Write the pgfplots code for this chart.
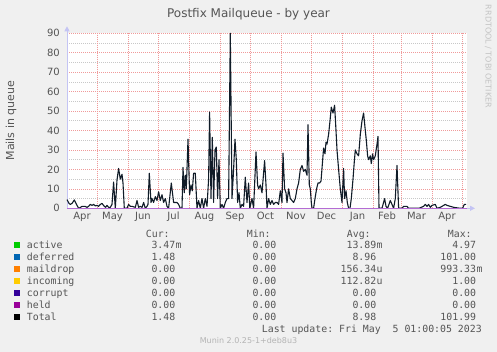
\documentclass[border=0pt]{standalone}
\usepackage{pgfplots}
\pgfplotsset{compat=1.18}
\usepackage{fontspec}
\setmainfont{DejaVu Sans}
\setmonofont{DejaVu Sans Mono}
\usetikzlibrary{arrows.meta}
\definecolor{bg}{HTML}{F0F0F0}
\definecolor{txt}{HTML}{555555}
\definecolor{gridred}{HTML}{F09A9A}
\definecolor{gridgray}{HTML}{C8C8C8}
\definecolor{axiscol}{HTML}{C4C4F4}
\definecolor{purp}{HTML}{B46CD4}
\definecolor{dataline}{HTML}{101C28}
\definecolor{cactive}{HTML}{00CC00}
\definecolor{cdeferred}{HTML}{0066B3}
\definecolor{cmaildrop}{HTML}{FF8000}
\definecolor{cincoming}{HTML}{FFCC00}
\definecolor{ccorrupt}{HTML}{330099}
\definecolor{cheld}{HTML}{990099}
\pgfplotstableread{
day val
0 4.5
2 2.5
3.3 2
5 2.5
7.3 4.3
9.5 2
11.6 0
13 0.3
15 1
18 1
20 0.5
21.6 1
23.3 2
25 1.5
26.6 2
28.3 1.2
30 1.5
31.6 1
33.3 2
35 2.5
37.3 1
38.6 0.5
40 1.5
41.6 0.5
43.3 0.5
45 2
46.6 13.5
48.3 0
50 14.5
51.6 20.5
53.3 15
55 17.5
56 13
57.3 0
60 0
61.6 2
63.3 1
65 1
68.3 0.5
70 4
71.6 0.5
73.3 1
75 0.5
76.6 3
78.3 0
80 1
81 2
82.3 18
84 3
85 5
86.6 3
88.3 6
90 4
91.6 8.5
93.3 4
95 7
96.6 3
98.3 5
100 1
101.6 0
104.3 13
106.6 3
108.3 3
110 3
111.6 2
113.3 0
115 0
116 21
117.3 8
118.3 17
119.3 10
121 35.5
122.6 7
124 12
125.3 9
126.6 18
128.3 18
130 0
131.6 4
133.3 0
135 5
136.6 0
138.3 5
140 1
141.6 15
142.6 49.5
144 5
145.3 36.5
146.6 3
148 30
149.3 31.5
150.6 5
152 25
153.3 0
155 2
156.6 0
158.3 3
160 5
161.6 5
163.3 90
165 5
166.6 20
168 35.5
169.3 25
170.6 3
172 8
173.3 0
175 2
176.6 1
178.3 16
180 3
181.6 13
182.8 0
185 5
186.6 0
189 29
190.6 12
191.6 10
193.3 12
195 8
197.6 24.5
199 12
200 0
201.6 5
203.3 2
205 4
206.6 2
208.3 3
210 3
211.6 2
213.3 9
215 3
216 28.4
217.6 10
219 8
220 3
221.6 10
223.3 5
225 4
226.6 3
228.3 5
230 10
231.6 13
233.3 20
235 22
236.6 19
238.3 20
240 17
241 43
242.3 12
243.3 10
244.3 3
245 0
246.6 0
248 5
249.6 10
251 13
252.6 13
254 14
255 20.5
256.6 31
258 28
259 34
260 33
261.6 38
263 45
264.3 52
266 49
267.6 53
269 40
270 30
271.6 20
273.3 10
275 3
276.6 20.5
277.6 5
279 9
280.3 3
281.6 0
283 0
284.3 5
286 15
287.3 24
288.3 30
290 28
291.6 27
293.3 38
295 45
296.6 49
298.3 40
299.3 35
300.6 27
301.6 25
303.3 27
304.3 23
305.6 28
306.6 25
308.3 27
310 33
311 37
312 0
313.3 0
315 0
317.6 5
319 1
320.6 0
323.3 4
325 2
326.6 0
328.3 5
330 22
331.6 0
335 0
336.6 1
340 1
341.6 0
345 0
350 0
352 0
356.6 1
358.3 2
360 1
361.6 2
363.3 0.5
365 1.5
368.3 2
370 0
373.3 0.5
375 1
376.6 1.5
378.3 2
380 1.5
383.3 1
386.6 0.5
393.3 0
395.6 0
397.3 2
399 2
}\total
\begin{document}
\begin{tikzpicture}[x=1pt,y=1pt]
\useasboundingbox (0,0) rectangle (497,352);
\fill[bg] (0,0) rectangle (497,352);
\begin{axis}[
  at={(67pt,143.7pt)}, anchor=south west,
  scale only axis, width=400pt, height=175pt,
  xmin=0, xmax=400, ymin=0, ymax=90,
  axis background/.style={fill=white},
  axis line style={draw=none},
  clip=false,
  xtick={15,45.5,76,106.5,137.5,168,198.5,229,259.5,290.5,320,349.5,380},
  xticklabels={Apr,May,Jun,Jul,Aug,Sep,Oct,Nov,Dec,Jan,Feb,Mar,Apr},
  extra x ticks={30,61,91,122,153,183,214,244,275,306,334,365,395},
  extra x tick labels={\empty},
  extra x tick style={grid=major, xticklabel style={opacity=0}},
  ytick={0,10,...,90},
  minor ytick={5,15,...,85},
  ymajorgrids, yminorgrids,
  major grid style={draw=gridred, dash pattern=on 1pt off 1pt, line width=0.6pt},
  minor grid style={draw=gridgray, dash pattern=on 1pt off 1pt, line width=0.6pt},
  major tick length=0pt, minor tick length=0pt,
  tick label style={font=\fontsize{10}{12}\selectfont, text=txt},
  yticklabel style={xshift=-3.7pt},
  xticklabel style={text height=7.5pt, text depth=2pt},
  /pgf/number format/assume math mode=true,
]
\draw[axiscol, line width=0.8pt, -{Triangle[length=5pt,width=5pt]}] (rel axis cs:0,0) -- ([xshift=8pt]rel axis cs:1,0);
\draw[axiscol, line width=0.8pt, -{Triangle[length=5pt,width=5pt]}] (rel axis cs:0,0) -- ([yshift=7pt]rel axis cs:0,1);
\addplot[no marks, draw=dataline, line width=1.1pt, line join=round] table[x=day, y=val] {\total};
\addplot[no marks, draw=purp, line width=1.2pt] coordinates {(0,0) (400,0)};
\end{axis}
% title and labels
\node[anchor=base, inner sep=0, text=txt, font=\fontsize{12}{14}\selectfont] at (248.5,334.5) {Postfix Mailqueue - by year};
\node[anchor=base, inner sep=0, text=txt, rotate=90, font=\fontsize{11}{13}\selectfont] at (14,231.4) {Mails in queue};
\node[anchor=base, inner sep=0, text={rgb,255:red,196;green,196;blue,196}, rotate=-90, font=\fontsize{8}{10}\selectfont] at (485.7,295.5) {RRDTOOL / TOBI OETIKER};
\node[anchor=base, inner sep=0, text={rgb,255:red,180;green,180;blue,180}, font=\fontsize{8}{10}\selectfont] at (248.5,8.7) {Munin 2.0.25-1+deb8u3};
% legend
\begin{scope}[every node/.style={inner sep=0, text=txt, font=\ttfamily\fontsize{9.87}{12}\selectfont}]
\node[anchor=base west] at (145.7,114.7) {Cur:};
\node[anchor=base west] at (246.7,114.7) {Min:};
\node[anchor=base west] at (346.7,114.7) {Avg:};
\node[anchor=base west] at (447.7,114.7) {Max:};
\foreach \col/\name/\cur/\curs/\mn/\avg/\avgs/\mx/\mxs [count=\i] in {
  cactive/active/3.47/m/0.00/13.89/m/4.97/,
  cdeferred/deferred/1.48//0.00/8.96//101.00/,
  cmaildrop/maildrop/0.00//0.00/156.34/u/993.33/m,
  cincoming/incoming/0.00//0.00/112.82/u/1.00/,
  ccorrupt/corrupt/0.00//0.00/0.00//0.00/,
  cheld/held/0.00//0.00/0.00//0.00/,
  black/Total/1.48//0.00/8.98//101.99/} {
  \pgfmathsetmacro{\yy}{103.3-12*(\i-1)}
  \fill[\col] (14,\yy+1) rectangle (19.5,\yy+6.5);
  \node[anchor=base west] at (26.7,\yy) {\name};
  \node[anchor=base east] at (175.5,\yy) {\cur};
  \node[anchor=base west] at (175.5,\yy) {\curs};
  \node[anchor=base east] at (276.5,\yy) {\mn};
  \node[anchor=base east] at (376.5,\yy) {\avg};
  \node[anchor=base west] at (376.5,\yy) {\avgs};
  \node[anchor=base east] at (476.3,\yy) {\mx};
  \node[anchor=base west] at (476.3,\yy) {\mxs};
}
\node[anchor=base west] at (261.7,19.3) {Last update:~Fri May~~5 01:00:05 2023};
\end{scope}
\end{tikzpicture}
\end{document}
